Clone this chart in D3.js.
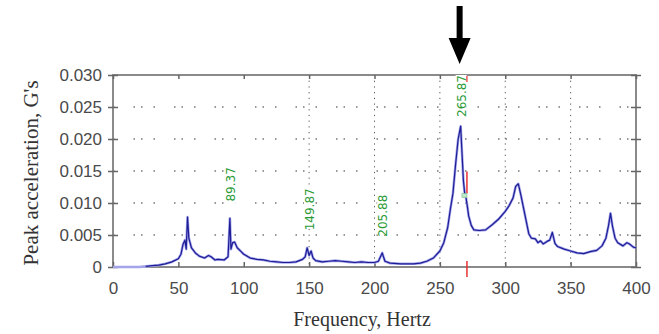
<!DOCTYPE html>
<html>
<head>
<meta charset="utf-8">
<script src="https://cdn.jsdelivr.net/npm/d3@7"></script>
<style>
  body { margin: 0; background: #fff; }
  svg { display: block; }
</style>
</head>
<body>
<svg id="chart" width="659" height="334"></svg>
<script>
// spectrum: frequency (Hz) and peak acceleration (G's)
const freqs = [0, 10, 20, 25, 30, 35, 40, 45, 50, 52, 53.5, 55, 56, 57, 58, 60, 63, 66, 70, 73, 75, 78, 80, 85, 88,
  89.4, 90.2, 91.5, 93, 95, 98, 100, 105, 110, 115, 120, 125, 130, 135, 140, 145, 147, 148.5, 150, 151.5, 153, 155,
  160, 165, 170, 175, 180, 185, 190, 195, 200, 203, 205.9, 208, 212, 220, 230, 235, 240, 245, 250, 253, 256, 258, 260,
  262, 264, 265.9, 267, 268, 269, 270, 271, 272, 274, 276, 280, 285, 290, 295, 300, 303, 306, 308, 310, 312, 314, 316,
  318, 320, 323, 325, 327, 329, 332, 334, 336, 338, 340, 345, 350, 355, 360, 365, 370, 374, 377, 379, 380.5, 382, 384,
  386, 390, 393, 395, 398, 400];
const accel = [0, 0, 0, 0.0001, 0.0002, 0.0003, 0.0005, 0.0008, 0.0013, 0.002, 0.0035, 0.0042, 0.0028, 0.0078, 0.0045,
  0.003, 0.0022, 0.0017, 0.0014, 0.0018, 0.0016, 0.0011, 0.0012, 0.0011, 0.0016,
  0.0076, 0.0028, 0.0038, 0.0039, 0.003, 0.0024, 0.002, 0.0014, 0.0012, 0.0011, 0.0009, 0.0008, 0.0007, 0.0007, 0.0008,
  0.0012, 0.0016, 0.003, 0.0018, 0.0025, 0.0014, 0.001,
  0.0008, 0.0009, 0.001, 0.0009, 0.0008, 0.0007, 0.0008, 0.0007, 0.0007, 0.0009, 0.0022, 0.0009, 0.0006, 0.0005, 0.0005,
  0.0006, 0.0009, 0.0014, 0.0025, 0.0038, 0.0062, 0.009, 0.0115,
  0.016, 0.02, 0.022, 0.0175, 0.0135, 0.0115, 0.0108, 0.0095, 0.008, 0.0065, 0.0058, 0.0057, 0.0058, 0.0066, 0.0075,
  0.0087, 0.0096, 0.0108, 0.0126, 0.013, 0.0112, 0.0092, 0.0072,
  0.0052, 0.0045, 0.0044, 0.0038, 0.0041, 0.0036, 0.004, 0.0042, 0.0054, 0.0037, 0.0032, 0.0028, 0.0025, 0.0022, 0.0021,
  0.0024, 0.0026, 0.0033, 0.0045, 0.0065, 0.0084, 0.0064, 0.0045,
  0.0038, 0.0033, 0.0038, 0.0036, 0.0031, 0.003];

const peakFreqs = [89.37, 149.87, 205.88, 265.87];
const peakLabels = ["89.37", "149.87", "205.88", "265.87"];
const peakLabelTop = [0.0156, 0.0123, 0.0113, 0.0300];   // value level where each label text ends (top)

const xTicks = [0, 50, 100, 150, 200, 250, 300, 350, 400];
const yTicks = [0, 0.005, 0.010, 0.015, 0.020, 0.025, 0.030];
const yTickLabels = ["0", "0.005", "0.010", "0.015", "0.020", "0.025", "0.030"];
const cursorFreq = 270.7;
const cursorValue = 0.011;

const margin = {top: 75, right: 23, bottom: 67, left: 113};
const W = 659, H = 334;
const width = W - margin.left - margin.right,
      height = H - margin.top - margin.bottom;

const x = d3.scaleLinear().domain([0, 400]).range([0, width]);
const y = d3.scaleLinear().domain([0, 0.03]).range([height, 0]);

const svg = d3.select("#chart");
const g = svg.append("g").attr("transform", "translate(" + margin.left + "," + margin.top + ")");

// dotted grid
g.append("g").selectAll("line").data(yTicks.slice(1, -1)).join("line")
  .attr("x1", 0).attr("x2", width)
  .attr("y1", d => y(d)).attr("y2", d => y(d))
  .attr("stroke", "#333").attr("stroke-width", 1.2)
  .attr("stroke-dasharray", "1.5,19,1.5,6,1.5,11");
g.append("g").selectAll("line").data([150, 200, 250, 300, 350]).join("line")
  .attr("x1", d => x(d)).attr("x2", d => x(d))
  .attr("y1", 0).attr("y2", height)
  .attr("stroke", "#555").attr("stroke-width", 1)
  .attr("stroke-dasharray", "1.2,4.5");

// frame
g.append("rect").attr("width", width).attr("height", height)
  .attr("fill", "none").attr("stroke", "#8a8a8a").attr("stroke-width", 2);

// axes
const yAxis = g.append("g")
  .call(d3.axisLeft(y).tickValues(yTicks).tickFormat((d, i) => yTickLabels[i]).tickSize(5).tickPadding(6));
yAxis.selectAll(".tick line").attr("x2", 5).attr("x1", -5);
const yAxisR = g.append("g").attr("transform", "translate(" + width + ",0)")
  .call(d3.axisRight(y).tickValues(yTicks).tickFormat("").tickSize(5));
yAxisR.selectAll(".tick line").attr("x1", -5).attr("x2", 5);
const xAxis = g.append("g").attr("transform", "translate(0," + height + ")")
  .call(d3.axisBottom(x).tickValues(xTicks).tickSize(-5).tickPadding(15));
const xAxisT = g.append("g")
  .call(d3.axisTop(x).tickValues(xTicks).tickFormat("").tickSize(-4));

[yAxis, yAxisR, xAxis, xAxisT].forEach(a => {
  a.select(".domain").remove();
  a.selectAll(".tick line").attr("stroke", "#666").attr("stroke-width", 1.5);
  a.selectAll("text").attr("fill", "#4a4a4a")
    .attr("font-family", "'Liberation Sans', Arial, sans-serif").attr("font-size", 17);
});

// spectrum line
const pts = freqs.map((f, i) => [f, accel[i]]);
const line = d3.line().x(d => x(d[0])).y(d => y(d[1]));
g.append("path").datum(pts).attr("d", line)
  .attr("fill", "none").attr("stroke", "#a4a4ea").attr("stroke-width", 2.6).attr("stroke-linejoin", "round");
g.append("path").datum(pts.filter(d => d[0] >= 25)).attr("d", line)
  .attr("fill", "none").attr("stroke", "#1d1d96").attr("stroke-width", 1.2).attr("stroke-linejoin", "round");

// cursor marker
g.append("line").attr("x1", x(cursorFreq)).attr("x2", x(cursorFreq))
  .attr("y1", height - 6).attr("y2", height + 10)
  .attr("stroke", "#e83030").attr("stroke-width", 1.5);
g.append("line").attr("x1", x(cursorFreq)).attr("x2", x(cursorFreq))
  .attr("y1", y(cursorValue) - 25).attr("y2", y(cursorValue) - 3)
  .attr("stroke", "#e83030").attr("stroke-width", 1.5);
g.append("rect").attr("x", x(cursorFreq) - 5).attr("y", y(cursorValue) - 3)
  .attr("width", 5).attr("height", 4).attr("fill", "#bfe8c8").attr("stroke", "#7ac68a").attr("stroke-width", 0.6);

// peak labels (white backing so the top label cuts the frame)
const labels = g.append("g").selectAll("g").data(peakFreqs).join("g")
  .attr("transform", (d, i) => "translate(" + (x(d) + 5) + "," + y(peakLabelTop[i]) + ") rotate(-90)");
labels.append("rect").attr("x", -40).attr("y", -10).attr("width", 40).attr("height", 11).attr("fill", "#fff");
labels.append("text")
  .attr("text-anchor", "end")
  .attr("fill", "#2a9a35")
  .attr("font-family", "'DejaVu Sans', Verdana, sans-serif")
  .attr("font-size", 12)
  .text((d, i) => peakLabels[i]);
g.append("line").attr("x1", x(cursorFreq)).attr("x2", x(cursorFreq))
  .attr("y1", 1).attr("y2", 7)
  .attr("stroke", "#e83030").attr("stroke-width", 1.2);

// arrow pointing at the main peak
const ax = x(265.87) - 1;
svg.append("path")
  .attr("transform", "translate(" + (margin.left + ax) + ",0)")
  .attr("d", "M-3,6 L3,6 L3,38 L11,38 L0,64 L-11,38 L-3,38 Z")
  .attr("fill", "#000");

// axis titles
svg.append("text")
  .attr("transform", "translate(" + 38 + "," + 173 + ") rotate(-90)")
  .attr("text-anchor", "middle")
  .attr("font-family", "'Liberation Serif', 'Times New Roman', serif").attr("font-size", 21)
  .attr("fill", "#333")
  .text("Peak acceleration, G's");
svg.append("text")
  .attr("x", 362).attr("y", 326)
  .attr("text-anchor", "middle")
  .attr("font-family", "'Liberation Serif', 'Times New Roman', serif").attr("font-size", 20)
  .attr("fill", "#333")
  .text("Frequency, Hertz");
</script>
</body>
</html>
